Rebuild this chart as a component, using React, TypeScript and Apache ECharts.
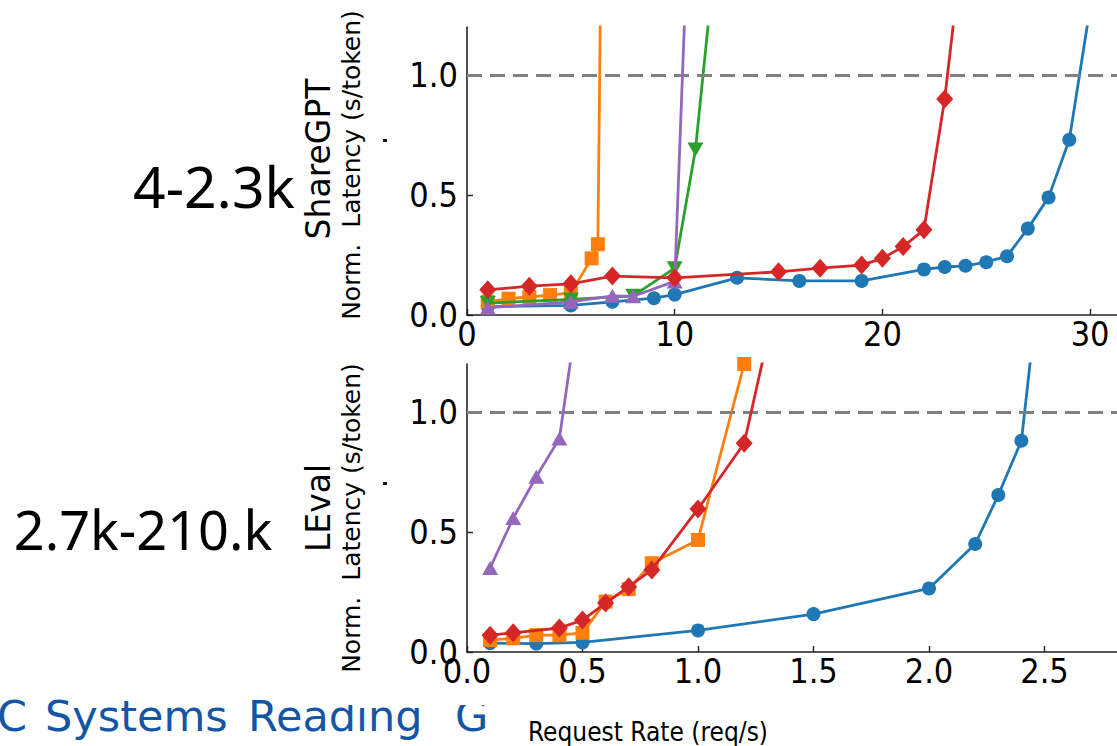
import React, { useEffect, useRef } from "react";
import * as echarts from "echarts";

// ---- Data (top: ShareGPT, bottom: LEval) ----
const blueTopX = [1, 5, 7, 9, 10, 13, 16, 19, 22, 23, 24, 25, 26, 27, 28, 29, 30];
const blueTopY = [0.035, 0.04, 0.055, 0.07, 0.085, 0.155, 0.142, 0.142, 0.19, 0.2, 0.205, 0.22, 0.245, 0.36, 0.49, 0.73, 1.28];
const orangeTopX = [1, 2, 3, 4, 5, 6, 6.3, 6.5];
const orangeTopY = [0.055, 0.068, 0.075, 0.083, 0.092, 0.236, 0.295, 1.9];
const greenTopX = [1, 5, 8, 10, 11, 12];
const greenTopY = [0.05, 0.065, 0.08, 0.195, 0.69, 1.54];
const purpleTopX = [1, 5, 7, 8, 10, 11];
const purpleTopY = [0.03, 0.055, 0.08, 0.078, 0.14, 2.44];
const redTopX = [1, 3, 5, 7, 10, 15, 17, 19, 20, 21, 22, 23, 24];
const redTopY = [0.105, 0.12, 0.13, 0.162, 0.155, 0.18, 0.195, 0.208, 0.236, 0.285, 0.355, 0.9, 1.65];

const blueBotX = [0.1, 0.3, 0.5, 1.0, 1.5, 2.0, 2.2, 2.3, 2.4, 2.5];
const blueBotY = [0.037, 0.035, 0.04, 0.09, 0.158, 0.265, 0.45, 0.654, 0.88, 1.74];
const orangeBotX = [0.1, 0.2, 0.3, 0.4, 0.5, 0.6, 0.7, 0.8, 1.0, 1.2];
const orangeBotY = [0.05, 0.057, 0.07, 0.07, 0.08, 0.21, 0.262, 0.37, 0.467, 1.2];
const redBotX = [0.1, 0.2, 0.4, 0.5, 0.6, 0.7, 0.8, 1.0, 1.2, 1.3];
const redBotY = [0.07, 0.08, 0.1, 0.133, 0.204, 0.272, 0.342, 0.596, 0.87, 1.3];
const purpleBotX = [0.1, 0.2, 0.3, 0.4, 0.5];
const purpleBotY = [0.35, 0.558, 0.73, 0.89, 1.56];

const yTicks = [0, 0.5, 1.0];
const xTicksTop = [0, 10, 20, 30];
const xTicksBot = [0, 0.5, 1.0, 1.5, 2.0, 2.5];
const sloThreshold = 1.0;

const rowLabels = ["4-2.3k", "2.7k-210.k"];
const datasetNames = ["ShareGPT", "LEval"];
const yAxisTitle = "Norm.  Latency (s/token)";
const xAxisTitle = "Request Rate (req/s)";
const footerWords = ["C", "Systems", "Reading", "G"];

const C = {
  blue: "#1f77b4",
  orange: "#ff7f0e",
  green: "#2ca02c",
  red: "#d62728",
  purple: "#9467bd",
};

const tickFont = "DejaVu Sans Condensed, DejaVu Sans, sans-serif";

function zip(xs: number[], ys: number[]) {
  return xs.map((x, i) => [x, ys[i]]);
}

function mkSeries(
  name: string,
  xs: number[],
  ys: number[],
  color: string,
  symbol: string,
  size: any,
  idx: number,
  z: number,
  rotate = 0
) {
  return {
    name,
    type: "line",
    xAxisIndex: idx,
    yAxisIndex: idx,
    data: zip(xs, ys),
    symbol,
    symbolSize: size,
    symbolRotate: rotate,
    showAllSymbol: true,
    clip: true,
    z,
    lineStyle: { color, width: 2.8 },
    itemStyle: { color, borderWidth: 0 },
  };
}

function dashedLine(idx: number) {
  return {
    type: "line",
    xAxisIndex: idx,
    yAxisIndex: idx,
    data: [],
    z: 1,
    markLine: {
      silent: true,
      symbol: "none",
      animation: false,
      label: { show: false },
      lineStyle: { color: "#808080", width: 3, type: [15, 8] },
      data: [{ yAxis: sloThreshold }],
    },
  };
}

export default function App() {
  const ref = useRef<HTMLDivElement>(null);

  useEffect(() => {
    if (!ref.current) return;
    const chart = echarts.init(ref.current, null, { renderer: "svg" });

    const axisCommon = {
      axisLine: { show: true, lineStyle: { color: "#222", width: 1.6 } },
      axisTick: { show: true, inside: true, length: 6, lineStyle: { color: "#222", width: 1.4 } },
      splitLine: { show: false },
    };

    const xAxisBase = (max: number, ticks: number[], fmt: (v: number) => string, gi: number) => ({
      type: "value",
      gridIndex: gi,
      min: 0,
      max,
      ...axisCommon,
      axisTick: { ...axisCommon.axisTick, customValues: ticks },
      axisLabel: {
        customValues: ticks,
        formatter: fmt,
        fontFamily: tickFont,
        fontSize: 34,
        color: "#000",
        margin: 2,
      },
    });

    const yAxisBase = (gi: number) => ({
      type: "value",
      gridIndex: gi,
      min: 0,
      max: 1.2,
      ...axisCommon,
      axisTick: { ...axisCommon.axisTick, customValues: yTicks },
      axisLabel: {
        customValues: yTicks,
        formatter: (v: number) => v.toFixed(1),
        fontFamily: tickFont,
        fontSize: 34,
        color: "#000",
        margin: 9,
      },
    });

    const sideText = (text: string, x: number, y: number, size: number, family: string, rot = 0, color = "#000") => ({
      type: "text",
      x,
      y,
      rotation: rot,
      z: 100,
      style: {
        text,
        fill: color,
        fontSize: size,
        fontFamily: family,
        textAlign: "center",
        textVerticalAlign: "middle",
        align: "center",
        verticalAlign: "middle",
      },
    });

    const blueText = (text: string, x: number) => ({
      type: "text",
      x,
      y: 737,
      z: 50,
      style: {
        text,
        fill: "#1456a3",
        fontSize: 43,
        fontFamily: "DejaVu Sans, sans-serif",
        textAlign: "left",
        textVerticalAlign: "bottom",
        align: "left",
        verticalAlign: "bottom",
      },
    });

    const speck = (x: number, y: number) => ({
      type: "rect",
      z: 100,
      shape: { x, y, width: 4, height: 3 },
      style: { fill: "#111" },
    });

    chart.setOption({
      animation: false,
      backgroundColor: "#ffffff",
      grid: [
        { left: 467, top: 27, width: 650, height: 288 },
        { left: 467, top: 364, width: 650, height: 288 },
      ],
      xAxis: [
        xAxisBase(650 / 20.77, xTicksTop, (v: number) => String(Math.round(v)), 0),
        xAxisBase(650 / 231, xTicksBot, (v: number) => v.toFixed(1), 1),
      ],
      yAxis: [yAxisBase(0), yAxisBase(1)],
      series: [
        dashedLine(0),
        dashedLine(1),
        mkSeries("blue", blueTopX, blueTopY, C.blue, "circle", 14, 0, 2),
        mkSeries("orange", orangeTopX, orangeTopY, C.orange, "rect", 14, 0, 3),
        mkSeries("green", greenTopX, greenTopY, C.green, "triangle", [16, 14], 0, 4, 180),
        mkSeries("purple", purpleTopX, purpleTopY, C.purple, "triangle", [16, 14], 0, 5),
        mkSeries("red", redTopX, redTopY, C.red, "diamond", [17, 19], 0, 6),
        mkSeries("blue", blueBotX, blueBotY, C.blue, "circle", 14, 1, 2),
        mkSeries("orange", orangeBotX, orangeBotY, C.orange, "rect", 14, 1, 3),
        mkSeries("purple", purpleBotX, purpleBotY, C.purple, "triangle", [16, 14], 1, 5),
        mkSeries("red", redBotX, redBotY, C.red, "diamond", [17, 19], 1, 6),
      ],
      graphic: [
        sideText(rowLabels[0], 214, 186, 57, "Noto Sans, sans-serif"),
        sideText(rowLabels[1], 143, 529, 54, "Noto Sans, sans-serif"),
        sideText(datasetNames[0], 318, 159, 33, "DejaVu Sans, sans-serif", Math.PI / 2),
        sideText(yAxisTitle, 351, 165, 25, "DejaVu Sans, sans-serif", Math.PI / 2),
        sideText(datasetNames[1], 318, 508, 33, "DejaVu Sans, sans-serif", Math.PI / 2),
        sideText(yAxisTitle, 351, 518, 25, "DejaVu Sans, sans-serif", Math.PI / 2),
        sideText(xAxisTitle, 648, 732, 26, tickFont),
        blueText(footerWords[0], -3),
        blueText(footerWords[1], 45),
        blueText(footerWords[2], 248),
        blueText(footerWords[3], 455),
        {
          type: "rect",
          z: 60,
          shape: { x: 330, y: 688, width: 165, height: 17 },
          style: { fill: "#ffffff" },
        },
        speck(383, 139),
        speck(383, 482),
      ],
    });

    return () => chart.dispose();
  }, []);

  return (
    <div
      ref={ref}
      style={{ position: "fixed", left: 0, top: 0, width: 1117, height: 746, background: "#fff" }}
    />
  );
}
